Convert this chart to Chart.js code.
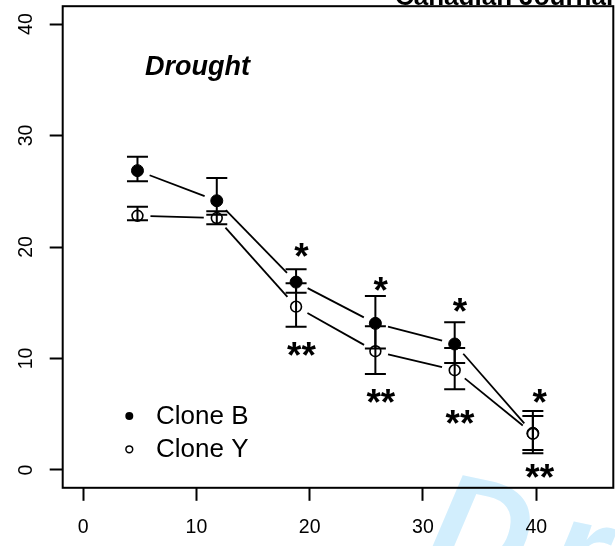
<!DOCTYPE html>
<html>
<head>
<meta charset="utf-8">
<script src="https://cdn.jsdelivr.net/npm/chart.js@4.4.1/dist/chart.umd.min.js"></script>
<style>
  html, body { margin: 0; padding: 0; background: #fff; }
  #wrap { width: 615px; height: 546px; }
</style>
</head>
<body>
<div id="wrap"><canvas id="grafico" width="615" height="546"></canvas></div>
<script>
// dias de seca (eixo x)
const dias = [4.8, 11.8, 18.8, 25.8, 32.8, 39.7];

// medias por clone
const cloneB = [26.85, 24.15, 16.85, 13.15, 11.3, 3.3];
const cloneY = [22.8, 22.6, 14.65, 10.65, 8.95, 3.25];

// barras de erro (limite inferior / superior)
const cloneBInf = [25.9, 22.9, 15.9, 10.9, 9.6, 1.5];
const cloneBSup = [28.1, 26.2, 18.0, 15.6, 13.25, 5.3];
const cloneYInf = [22.4, 22.05, 12.85, 8.6, 7.25, 1.8];
const cloneYSup = [23.6, 23.2, 16.75, 12.9, 10.95, 4.85];

// significancia
const sigX = [19.28, 26.28, 33.27, 40.3];
const sigBY = [19.9, 16.9, 14.97, 6.83];
const sigYY = [11.0, 6.83, 4.95, 0.08];

// ticks
const ticksX = [0, 10, 20, 30, 40];
const ticksY = [0, 10, 20, 30, 40];

const FONTE = '"Liberation Sans", Arial, Helvetica, sans-serif';

const marcaDagua = {
    id: 'marcaDagua',
    beforeDraw(chart) {
        const ctx = chart.ctx;
        ctx.save();
        ctx.fillStyle = '#fff';
        ctx.fillRect(0, 0, chart.width, chart.height);
        ctx.translate(422, 565);
        ctx.rotate(12 * Math.PI / 180);
        ctx.font = 'bold italic 140px ' + FONTE;
        ctx.letterSpacing = '22px';
        ctx.fillStyle = '#d2eefd';
        ctx.textBaseline = 'alphabetic';
        ctx.fillText('Draft', 0, 0);
        ctx.restore();
    }
};

const linhas = {
    id: 'linhas',
    beforeDatasetsDraw(chart) {
        const ctx = chart.ctx;
        const gap = 13;
        ctx.save();
        ctx.strokeStyle = '#000';
        ctx.lineWidth = 1.8;
        chart.data.datasets.forEach((ds, i) => {
            const pts = chart.getDatasetMeta(i).data;
            for (let k = 0; k < pts.length - 1; k++) {
                const a = pts[k], b = pts[k + 1];
                const dx = b.x - a.x, dy = b.y - a.y;
                const len = Math.hypot(dx, dy);
                if (len < 2 * gap) continue;
                const ux = dx / len, uy = dy / len;
                ctx.beginPath();
                ctx.moveTo(a.x + ux * gap, a.y + uy * gap);
                ctx.lineTo(b.x - ux * gap, b.y - uy * gap);
                ctx.stroke();
            }
        });
        ctx.restore();
    }
};

function desenharBarras(ctx, xs, ys, inf, sup) {
    const meia = 10.5;
    xs.forEach((x, i) => {
        const px = ys.x.getPixelForValue(x);
        const y1 = ys.y.getPixelForValue(inf[i]);
        const y2 = ys.y.getPixelForValue(sup[i]);
        ctx.beginPath();
        ctx.moveTo(px, y1); ctx.lineTo(px, y2);
        ctx.moveTo(px - meia, y1); ctx.lineTo(px + meia, y1);
        ctx.moveTo(px - meia, y2); ctx.lineTo(px + meia, y2);
        ctx.stroke();
    });
}

const extras = {
    id: 'extras',
    afterDatasetsDraw(chart) {
        const ctx = chart.ctx;
        const sx = chart.scales.x, sy = chart.scales.y;
        const area = chart.chartArea;
        ctx.save();
        ctx.strokeStyle = '#000';
        ctx.lineWidth = 2;
        desenharBarras(ctx, dias, { x: sx, y: sy }, cloneBInf, cloneBSup);
        desenharBarras(ctx, dias, { x: sx, y: sy }, cloneYInf, cloneYSup);

        // caixa
        ctx.strokeRect(area.left, area.top, area.right - area.left, area.bottom - area.top);

        // asteriscos
        const fs = 37;
        ctx.fillStyle = '#000';
        ctx.font = 'bold ' + fs + 'px ' + FONTE;
        ctx.textAlign = 'center';
        ctx.textBaseline = 'alphabetic';
        sigX.forEach((x, i) => {
            const px = sx.getPixelForValue(x);
            ctx.fillText('*', px, sy.getPixelForValue(sigBY[i]) + 0.57 * fs);
            ctx.fillText('**', px, sy.getPixelForValue(sigYY[i]) + 0.57 * fs);
        });

        // titulo do painel
        ctx.textAlign = 'left';
        ctx.font = 'bold italic 27px ' + FONTE;
        ctx.fillText('Drought', 145, 75);

        // legenda
        ctx.font = '26px ' + FONTE;
        ctx.textBaseline = 'middle';
        const leg = [[416, true], [449.3, false]];
        chart.data.datasets.forEach((ds, i) => {
            const [ly, cheio] = leg[i];
            ctx.beginPath();
            ctx.arc(129.3, ly, cheio ? 4 : 3.4, 0, Math.PI * 2);
            if (cheio) { ctx.fill(); } else { ctx.lineWidth = 1.5; ctx.stroke(); }
            ctx.fillText(ds.label, 156, ly + 1);
        });

        // cabecalho cortado
        ctx.textBaseline = 'alphabetic';
        ctx.font = 'bold 26px ' + FONTE;
        ctx.fillText('Canadian Journal of Forest Research', 395, 4.5);
        ctx.restore();
    }
};

function semPadding(s) {
    s.paddingTop = 0;
    s.paddingBottom = 0;
    s.paddingLeft = 0;
    s.paddingRight = 0;
}

const ctx = document.getElementById('grafico').getContext('2d');
new Chart(ctx, {
    type: 'scatter',
    data: {
        datasets: [
            {
                label: 'Clone B',
                data: dias.map((d, i) => ({ x: d, y: cloneB[i] })),
                pointRadius: 6,
                pointBorderWidth: 1,
                backgroundColor: '#000',
                borderColor: '#000',
                order: 1
            },
            {
                label: 'Clone Y',
                data: dias.map((d, i) => ({ x: d, y: cloneY[i] })),
                pointRadius: 5.4,
                pointBorderWidth: 1.6,
                backgroundColor: '#fff',
                borderColor: '#000',
                order: 0
            }
        ]
    },
    options: {
        responsive: false,
        animation: false,
        devicePixelRatio: 1,
        layout: { autoPadding: false, padding: { top: 6.2, right: 1.7, left: 0, bottom: 0 } },
        plugins: {
            legend: { display: false },
            tooltip: { enabled: false }
        },
        scales: {
            x: {
                type: 'linear',
                min: -1.8,
                max: 46.8,
                afterBuildTicks: s => { s.ticks = ticksX.map(v => ({ value: v })); },
                afterFit: s => { s.height = 58.2; semPadding(s); },
                border: { display: false },
                grid: { drawOnChartArea: false, drawTicks: true, tickLength: 13, tickWidth: 2, tickColor: '#000' },
                ticks: { color: '#000', font: { family: FONTE, size: 19.5 }, padding: 15.5, maxRotation: 0, minRotation: 0 }
            },
            y: {
                type: 'linear',
                min: -1.6,
                max: 41.6,
                afterBuildTicks: s => { s.ticks = ticksY.map(v => ({ value: v })); },
                afterFit: s => { s.width = 62.7; semPadding(s); },
                border: { display: false },
                grid: { drawOnChartArea: false, drawTicks: true, tickLength: 13, tickWidth: 2, tickColor: '#000' },
                ticks: { color: '#000', font: { family: FONTE, size: 19.5 }, padding: 12, minRotation: 90, maxRotation: 90, crossAlign: 'center' }
            }
        }
    },
    plugins: [marcaDagua, linhas, extras]
});
</script>
</body>
</html>
